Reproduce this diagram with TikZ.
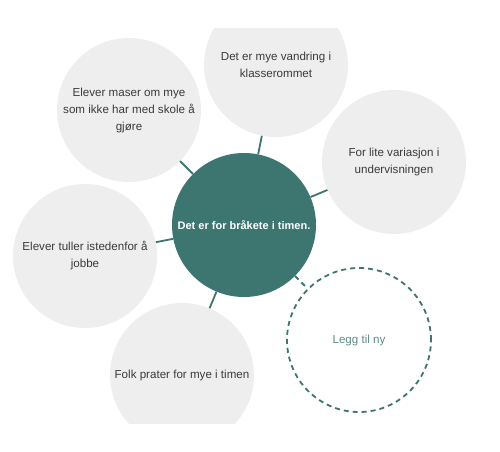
\documentclass[tikz,border=0pt]{standalone}
\usepackage{fontspec}
\setmainfont{Liberation Sans}
\usepackage{xcolor}
\usepackage{tikz}
\definecolor{teal}{HTML}{3D7570}
\definecolor{bubblebg}{HTML}{EEEEEE}
\definecolor{ink}{HTML}{3A3A3A}
\definecolor{softteal}{HTML}{5E8C88}

\begin{document}
\begin{tikzpicture}[x=1pt,y=-1pt,
  bubble/.style={circle,fill=bubblebg,minimum size=144pt,inner sep=0pt,
                 text=ink,align=center,font=\fontsize{11.6}{17}\selectfont},
  hub/.style={circle,fill=teal,minimum size=144pt,inner sep=0pt,
              text=white,align=center,font=\fontsize{11}{17}\selectfont\bfseries},
  addbox/.style={circle,draw=teal,line width=1.8pt,dash pattern=on 5pt off 4pt,
                 minimum size=144pt,inner sep=0pt,text=softteal,
                 font=\fontsize{11.6}{17}\selectfont},
  link/.style={draw=teal,line width=1.8pt}
]
\useasboundingbox (0,0) rectangle (500,451);
\begin{scope}
\clip (0,28) rectangle (500,423);
\node[hub] (c) at (244,225) {Det er for bråkete i timen.};
\node[bubble] (t) at (276,65) {Det er mye vandring i\\klasserommet};
\node[bubble] (tl) at (129,110) {Elever maser om mye\\som ikke har med skole å\\gjøre};
\node[bubble] (r) at (394,162) {For lite variasjon i\\undervisningen};
\node[bubble] (l) at (85,256) {Elever tuller istedenfor å\\jobbe};
\node[bubble] (b) at (182,375) {Folk prater for mye i timen};
\node[addbox] (n) at (359,340) {Legg til ny};
\draw[link] (c) -- (t);
\draw[link] (c) -- (tl);
\draw[link] (c) -- (r);
\draw[link] (c) -- (l);
\draw[link] (c) -- (b);
\draw[link,dash pattern=on 5pt off 4pt] (c) -- (n);
\end{scope}
\end{tikzpicture}
\end{document}
